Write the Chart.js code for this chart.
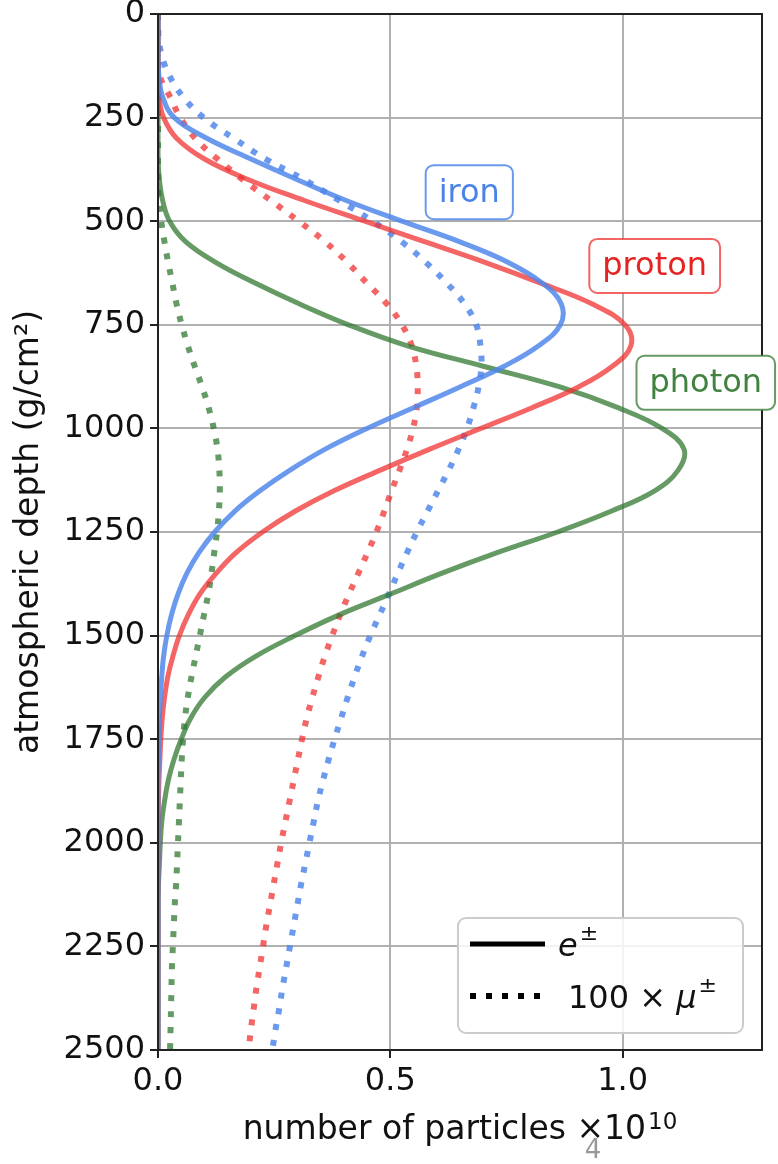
<!DOCTYPE html>
<html>
<head>
<meta charset="utf-8">
<script src="https://cdn.jsdelivr.net/npm/chart.js@4.4.1/dist/chart.umd.min.js"></script>
<style>
    html, body { margin: 0; padding: 0; background: #fff; }
</style>
</head>
<body>
<canvas id="showerChart" width="778" height="1164"></canvas>
<script>
// atmospheric depth (g/cm2) where each profile was read
const depths = [0, 50, 100, 150, 200, 250, 300, 350, 400, 450,
    500, 550, 600, 650, 700, 750, 800, 850, 900, 950,
    1000, 1050, 1100, 1150, 1200, 1250, 1300, 1350, 1400, 1450,
    1500, 1550, 1600, 1650, 1700, 1750, 1800, 1850, 1900, 1950,
    2000, 2050, 2100, 2150, 2200, 2250, 2300, 2350, 2400, 2450, 2500];

// e+- counts, x 1e10
const ironElectrons = [0, 0, 0, 0.002, 0.01, 0.035, 0.105, 0.2, 0.3, 0.405,
    0.525, 0.65, 0.755, 0.828, 0.868, 0.866, 0.82, 0.745, 0.65, 0.55,
    0.45, 0.36, 0.285, 0.22, 0.165, 0.122, 0.088, 0.062, 0.043, 0.029,
    0.019, 0.012, 0.008, 0.005, 0.003, 0.002, 0.001, 0, 0, 0,
    0, 0, 0, 0, 0, 0, 0, 0, 0, 0, 0];
const protonElectrons = [0, 0, 0, 0, 0.002, 0.012, 0.04, 0.1, 0.195, 0.315,
    0.445, 0.575, 0.705, 0.825, 0.935, 1.005, 1.018, 0.978, 0.905, 0.805,
    0.695, 0.585, 0.48, 0.38, 0.295, 0.225, 0.168, 0.125, 0.09, 0.065,
    0.046, 0.032, 0.021, 0.014, 0.009, 0.006, 0.004, 0.002, 0.001, 0,
    0, 0, 0, 0, 0, 0, 0, 0, 0, 0, 0];
const photonElectrons = [0, 0, 0, 0, 0, 0, 0, 0, 0.003, 0.01,
    0.025, 0.06, 0.125, 0.21, 0.305, 0.41, 0.535, 0.70, 0.865, 0.99,
    1.085, 1.132, 1.12, 1.07, 0.975, 0.86, 0.73, 0.61, 0.5, 0.39,
    0.295, 0.21, 0.145, 0.1, 0.07, 0.05, 0.034, 0.022, 0.014, 0.008,
    0.005, 0.003, 0.001, 0, 0, 0, 0, 0, 0, 0, 0];

// 100 x mu+- counts, x 1e10
const ironMuons = [0, 0.001, 0.008, 0.025, 0.054, 0.098, 0.163, 0.232, 0.315, 0.39,
    0.462, 0.525, 0.577, 0.622, 0.66, 0.685, 0.694, 0.696, 0.69, 0.679,
    0.665, 0.647, 0.626, 0.603, 0.58, 0.557, 0.536, 0.516, 0.497, 0.477,
    0.457, 0.439, 0.423, 0.408, 0.394, 0.38, 0.367, 0.355, 0.344, 0.335,
    0.326, 0.317, 0.308, 0.3, 0.292, 0.284, 0.276, 0.268, 0.261, 0.253, 0.246];
const protonMuons = [0, 0, 0, 0.004, 0.026, 0.048, 0.08, 0.128, 0.183, 0.243,
    0.303, 0.36, 0.408, 0.45, 0.493, 0.525, 0.546, 0.556, 0.559, 0.557,
    0.549, 0.536, 0.52, 0.503, 0.487, 0.47, 0.451, 0.431, 0.411, 0.392,
    0.375, 0.359, 0.345, 0.332, 0.32, 0.31, 0.301, 0.292, 0.283, 0.274,
    0.265, 0.257, 0.249, 0.241, 0.233, 0.226, 0.219, 0.212, 0.206, 0.2, 0.195];
const photonMuons = [0, 0, 0, 0, 0, 0, 0, 0, 0, 0.002,
    0.007, 0.014, 0.022, 0.031, 0.04, 0.051, 0.064, 0.079, 0.095, 0.109,
    0.12, 0.128, 0.132, 0.133, 0.131, 0.127, 0.121, 0.115, 0.108, 0.099,
    0.09, 0.081, 0.072, 0.064, 0.058, 0.054, 0.051, 0.049, 0.047, 0.045,
    0.043, 0.041, 0.039, 0.036, 0.034, 0.032, 0.03, 0.029, 0.028, 0.027, 0.026];

const primaries = ["iron", "proton", "photon"];
const legendLabels = ["e", "100 \u00d7 ", "\u03bc"];
const xTicks = [0, 0.5, 1.0];
const xTitle = ["number of particles \u00d710", "10"];

const colors = {
    iron: "rgba(80,135,235,0.85)",
    proton: "rgba(240,50,50,0.75)",
    photon: "rgba(50,120,50,0.75)"
};
const textColors = {
    iron: "rgb(75,130,232)",
    proton: "rgb(230,35,35)",
    photon: "rgb(65,130,65)"
};

function toPoints(values) {
    return depths.map((d, i) => ({ x: values[i], y: d }));
}

function profile(name, values, dotted) {
    return {
        label: name + (dotted ? " mu" : " e"),
        data: toPoints(values),
        indexAxis: "y",
        showLine: true,
        borderColor: colors[name],
        backgroundColor: colors[name],
        borderWidth: dotted ? 6 : 5,
        borderDash: dotted ? [6, 10] : [],
        pointRadius: 0,
        tension: 0.4,
        fill: false
    };
}

function roundBox(ctx, x, y, w, h, r) {
    ctx.beginPath();
    ctx.moveTo(x + r, y);
    ctx.arcTo(x + w, y, x + w, y + h, r);
    ctx.arcTo(x + w, y + h, x, y + h, r);
    ctx.arcTo(x, y + h, x, y, r);
    ctx.arcTo(x, y, x + w, y, r);
    ctx.closePath();
}

const extras = {
    id: "extras",
    afterDraw(chart) {
        const ctx = chart.ctx;
        const area = chart.chartArea;
        const xs = chart.scales.x;
        const ys = chart.scales.y;

        // spines
        ctx.save();
        ctx.strokeStyle = "#222";
        ctx.lineWidth = 2;
        ctx.strokeRect(area.left, area.top, area.right - area.left, area.bottom - area.top);

        // curve labels
        const spots = { iron: [0.67, 430], proton: [1.069, 608], photon: [1.179, 890] };
        ctx.font = "32px 'DejaVu Sans'";
        ctx.textAlign = "center";
        ctx.textBaseline = "middle";
        primaries.forEach(name => {
            const cx = xs.getPixelForValue(spots[name][0]);
            const cy = ys.getPixelForValue(spots[name][1]);
            const w = ctx.measureText(name).width + 26;
            const h = 54;
            roundBox(ctx, cx - w / 2, cy - h / 2, w, h, 8);
            ctx.fillStyle = "#fff";
            ctx.fill();
            ctx.strokeStyle = colors[name];
            ctx.lineWidth = 2;
            ctx.stroke();
            ctx.fillStyle = textColors[name];
            ctx.fillText(name, cx, cy + 1);
        });

        // x axis title with the offset exponent
        ctx.fillStyle = "#111";
        ctx.textBaseline = "alphabetic";
        ctx.textAlign = "left";
        ctx.font = "33px 'DejaVu Sans'";
        const mainW = ctx.measureText(xTitle[0]).width;
        ctx.font = "23px 'DejaVu Sans'";
        const supW = ctx.measureText(xTitle[1]).width;
        let tx = (area.left + area.right) / 2 - (mainW + supW + 2) / 2;
        ctx.font = "33px 'DejaVu Sans'";
        ctx.fillText(xTitle[0], tx, 1139);
        ctx.font = "23px 'DejaVu Sans'";
        ctx.fillText(xTitle[1], tx + mainW + 2, 1129);

        // legend
        const lw = 285, lh = 115;
        const lx = area.right - 19 - lw;
        const ly = area.bottom - 17 - lh;
        roundBox(ctx, lx, ly, lw, lh, 8);
        ctx.fillStyle = "rgba(255,255,255,0.85)";
        ctx.fill();
        ctx.strokeStyle = "#cccccc";
        ctx.lineWidth = 2;
        ctx.stroke();

        ctx.strokeStyle = "#000";
        ctx.lineWidth = 5;
        ctx.beginPath();
        ctx.moveTo(lx + 12, ly + 26);
        ctx.lineTo(lx + 87, ly + 26);
        ctx.stroke();
        ctx.lineWidth = 6;
        ctx.setLineDash([6, 10]);
        ctx.beginPath();
        ctx.moveTo(lx + 12, ly + 78);
        ctx.lineTo(lx + 87, ly + 78);
        ctx.stroke();
        ctx.setLineDash([]);

        ctx.fillStyle = "#111";
        tx = lx + 100;
        ctx.font = "italic 32px 'DejaVu Sans'";
        ctx.fillText(legendLabels[0], tx, ly + 38);
        tx += ctx.measureText(legendLabels[0]).width + 2;
        ctx.font = "22px 'DejaVu Sans'";
        ctx.fillText("\u00b1", tx, ly + 22);

        tx = lx + 110;
        ctx.font = "32px 'DejaVu Sans'";
        ctx.fillText(legendLabels[1], tx, ly + 90);
        tx += ctx.measureText(legendLabels[1]).width;
        ctx.font = "italic 32px 'DejaVu Sans'";
        ctx.fillText(legendLabels[2], tx, ly + 90);
        tx += ctx.measureText(legendLabels[2]).width + 2;
        ctx.font = "22px 'DejaVu Sans'";
        ctx.fillText("\u00b1", tx, ly + 74);

        // stray page number under the axis label
        ctx.fillStyle = "#999";
        ctx.font = "26px 'DejaVu Sans'";
        ctx.textAlign = "center";
        ctx.fillText("4", 593, 1158);
        ctx.restore();
    }
};

const datasets = [
    profile("iron", ironElectrons, false),
    profile("proton", protonElectrons, false),
    profile("photon", photonElectrons, false),
    profile("iron", ironMuons, true),
    profile("proton", protonMuons, true),
    profile("photon", photonMuons, true)
];

const tickFont = { family: "'DejaVu Sans'", size: 32 };
const gridStyle = { color: "#b0b0b0", lineWidth: 2, tickLength: 8, tickColor: "#222" };

new Chart(document.getElementById("showerChart"), {
    type: "scatter",
    data: { datasets: datasets },
    options: {
        responsive: false,
        animation: false,
        devicePixelRatio: 1,
        layout: { padding: { top: 14, right: 16, left: 0, bottom: 0 } },
        plugins: {
            legend: { display: false },
            tooltip: { enabled: false }
        },
        scales: {
            x: {
                type: "linear",
                min: 0,
                max: 1.3,
                afterBuildTicks(scale) {
                    scale.ticks = xTicks.map(v => ({ value: v }));
                },
                afterFit(scale) {
                    scale.height = 114;
                    scale.paddingLeft = 0;
                    scale.paddingRight = 0;
                },
                ticks: {
                    font: tickFont,
                    color: "#111",
                    padding: 4,
                    maxRotation: 0,
                    callback: v => v.toFixed(1)
                },
                grid: gridStyle,
                border: { color: "#222", width: 2 },
                title: { display: false }
            },
            y: {
                type: "linear",
                reverse: true,
                min: 0,
                max: 2500,
                afterFit(scale) {
                    scale.width = 158;
                    scale.paddingTop = 0;
                    scale.paddingBottom = 0;
                },
                ticks: {
                    font: tickFont,
                    color: "#111",
                    padding: 5,
                    stepSize: 250,
                    callback: v => String(v)
                },
                grid: gridStyle,
                border: { color: "#222", width: 2 },
                title: {
                    display: true,
                    text: "atmospheric depth (g/cm\u00b2)",
                    font: { family: "'DejaVu Sans'", size: 33 },
                    color: "#111",
                    padding: { top: 10, bottom: 0 }
                }
            }
        }
    },
    plugins: [extras]
});
</script>
</body>
</html>
